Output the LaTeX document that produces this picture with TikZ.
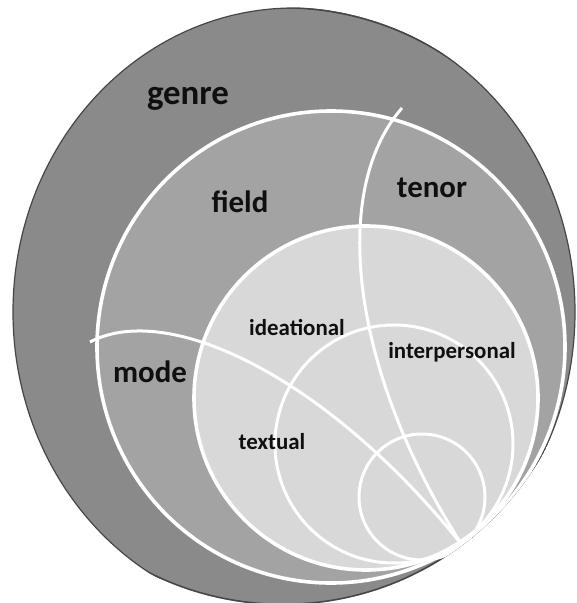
\documentclass[tikz,border=0pt]{standalone}
\usepackage{fontspec}
\setmainfont{Carlito}
\usepackage{tikz}
\definecolor{genregray}{RGB}{138,138,138}
\definecolor{fieldgray}{RGB}{163,163,163}
\definecolor{metagray}{RGB}{216,216,216}
\definecolor{rimgray}{RGB}{70,70,70}
\definecolor{inkblack}{RGB}{15,15,15}

\begin{document}
\begin{tikzpicture}[
  x=1bp, y=-1bp,
  rim/.style      = {draw=white, line width=3.6bp},
  thinrim/.style  = {draw=white, line width=3bp},
  ringtext/.style = {inner sep=0pt, anchor=base, text=inkblack,
                     font=\bfseries\fontsize{31}{36}\selectfont},
  bigtext/.style  = {ringtext, font=\bfseries\fontsize{35}{40}\selectfont},
  smalltext/.style= {ringtext, font=\bfseries\fontsize{23}{27}\selectfont}
]
\useasboundingbox (0,0) rectangle (577,603);

\begin{scope}
  \clip (283,306) circle [radius=299];

  %% genre
  \filldraw[fill=genregray, draw=rimgray, line width=1.2bp]
    (294,312) ellipse [x radius=281, y radius=304];
  \begin{scope}
    \clip (294,312) ellipse [x radius=281, y radius=304];
    \draw[rimgray, line width=3bp] (283,306) circle [radius=299];
  \end{scope}

  %% field / tenor / mode
  \filldraw[fill=fieldgray, rim] (331,347) ellipse [x radius=234, y radius=236];

  %% metafunctions
  \filldraw[fill=metagray, rim] (366,398) circle [radius=172];
  \draw[thinrim] (394,444) circle [radius=119];
  \draw[thinrim] (422,497) circle [radius=63];

  %% dividers
  \coordinate (tenortop) at (402,108);
  \coordinate (modeleft) at (90,342);
  \coordinate (tip) at (462,545);
  \draw[thinrim] (tenortop) .. controls (330,190) and (350,370) .. (tip);
  \draw[thinrim] (modeleft) .. controls (170,300) and (330,380) .. (tip);
\end{scope}

%% Labels
\node[bigtext] (genre) at (188,105) {genre};
\node[ringtext] (field) at (240,212) {field};
\node[ringtext] (tenor) at (432,197) {tenor};
\node[ringtext] (mode) at (150,382) {mode};
\node[smalltext] (ideational) at (297,335) {ideational};
\node[smalltext] (interpersonal) at (452,358) {interpersonal};
\node[smalltext] (textual) at (272,449) {textual};

\end{tikzpicture}
\end{document}
